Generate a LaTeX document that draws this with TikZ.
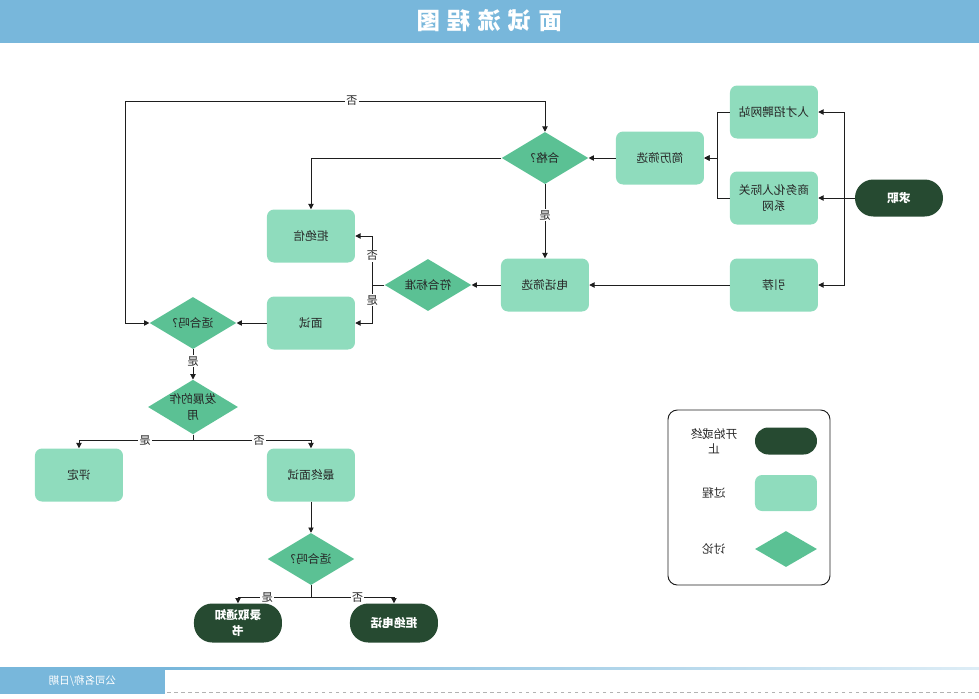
\documentclass[tikz,border=0pt]{standalone}
\usepackage{fontspec}
\setmainfont{Noto Sans CJK SC}
\newfontfamily\titlefont[LetterSpace=30]{Noto Sans CJK SC}
\usetikzlibrary{arrows.meta,shapes.geometric}

\definecolor{barblue}{HTML}{78B7DB}
\definecolor{procfill}{HTML}{8FDCBD}
\definecolor{decfill}{HTML}{5BC194}
\definecolor{termfill}{HTML}{264A31}
\definecolor{inkline}{HTML}{1E1E1E}

\tikzset{
  proc/.style={rectangle, rounded corners=6pt, fill=procfill, minimum width=2.64cm, minimum height=1.59cm, align=center, text=black!85, font=\fontsize{10}{13}\selectfont},
  decide/.style={diamond, fill=decfill, minimum width=2.6cm, minimum height=1.56cm, inner sep=0pt, aspect=1.65, align=center, text=black!85, font=\fontsize{10}{13}\selectfont},
  term/.style={rectangle, rounded corners=0.55cm, fill=termfill, minimum width=2.64cm, minimum height=1.17cm, align=center, text=white, font=\bfseries\fontsize{10}{13}\selectfont},
  flow/.style={draw=inkline, line width=0.8pt, -{Triangle[length=4.5pt,width=4.5pt]}},
  twoway/.style={flow, {Triangle[length=4.5pt,width=4.5pt]}-{Triangle[length=4.5pt,width=4.5pt]}},
  yesno/.style={fill=white, inner sep=1pt, text=black!85, font=\fontsize{9.5}{10}\selectfont},
}

\begin{document}
\begin{tikzpicture}[x=0.03cm, y=-0.03cm, xscale=-1, transform shape]
\useasboundingbox (0,0) rectangle (979,698);

\fill[barblue] (0,0) rectangle (979,43);
\node[text=white, font=\titlefont\bfseries\fontsize{20}{24}\selectfont] (title) at (489.5,21) {面试流程图};

\node[term, minimum height=1.11cm] (qiuzhi) at (80,198) {求职};
\foreach \nm/\u/\v/\txt in {rencai/205/112/人才招聘网站, shangwu/205/198/{商务化人际关\\系网}, yinjian/205/285/引荐, jianli/319/158/简历筛选, dianhua/434/285/电话筛选, jujuexin/668/236/拒绝信, mianshi/668/323/面试, pingding/900/475/评定, zuizhong/668/475/最终面试}
  \node[proc] (\nm) at (\u,\v) {\txt};
\foreach \nm/\u/\v/\txt in {hege/434/158/合格?, fuhe/551/285/符合标准, shihe/786/323/适合吗?, fazhan/786/407/{发展的作\\用}, shihezz/668/559/适合吗?}
  \node[decide] (\nm) at (\u,\v) {\txt};
\node[term] (luqu) at (741,623) {录取通知\\书};
\node[term] (jujuedh) at (585,623) {拒绝电话};
\coordinate (loop) at (854,101);

\draw[flow] (qiuzhi.east) -- ++(10,0) |- (rencai.west);
\draw[flow] (qiuzhi.east) -- (shangwu.west);
\draw[flow] (qiuzhi.east) -- ++(10,0) |- (yinjian.west);
\draw[flow] (rencai.east) -- ++(12,0) |- (jianli.west);
\draw[flow] (shangwu.east) -- ++(12,0) |- (jianli.west);
\draw[flow] (jianli.east) -- (hege.west);
\draw[flow] (hege.east) -| (jujuexin.north);
\draw[flow] (hege.south) -- node[yesno, pos=0.42] {是} (dianhua.north);
\draw[flow] (yinjian.east) -- (dianhua.west);
\draw[flow] (dianhua.east) -- (fuhe.west);
\draw[flow] (fuhe.east) -- ++(12,0) |- node[yesno, pos=0.3] {否} (jujuexin.west);
\draw[flow] (fuhe.east) -- ++(12,0) |- node[yesno, pos=0.2] {是} (mianshi.west);
\draw[flow] (mianshi.east) -- (shihe.west);
\draw[twoway] (shihe.east) -| (loop) -| node[yesno, pos=0.27] {否} (hege.north);
\draw[flow] (shihe.south) -- node[yesno, pos=0.4] {是} (fazhan.north);
\draw[flow] (fazhan.south) -- ++(0,6) -| node[yesno, pos=0.21] {是} (pingding.north);
\draw[flow] (fazhan.south) -- ++(0,6) -| node[yesno, pos=0.28] {否} (zuizhong.north);
\draw[flow] (zuizhong.south) -- (shihezz.north);
\draw[flow] (shihezz.south) -- ++(0,12) -| node[yesno, pos=0.3] {是} (luqu.north);
\draw[flow] (shihezz.south) -- ++(0,12) -| node[yesno, pos=0.28] {否} (jujuedh.north);

\draw[draw=inkline, line width=0.8pt, rounded corners=8pt] (149,410) rectangle (311,585);
\foreach \shp/\v/\hgt/\rnd/\txt [count=\i] in {term/441/0.81cm/0.4cm/{开始或终\\止}, proc/493/1.08cm/6pt/过程, decide/549/1.08cm/0pt/讨论} {
  \node[\shp, minimum width=1.86cm, minimum height=\hgt, rounded corners=\rnd] (legshape\i) at (193,\v) {};
  \node[align=center, text=black!85, font=\fontsize{10}{13}\selectfont] (legtext\i) at (265,\v) {\txt};
}

\fill[barblue] (814,667) rectangle (979,694);
\node[text=white, font=\fontsize{9}{10}\selectfont] (footer) at (896.5,680.5) {公司名称/日期};
\shade[left color=barblue, right color=barblue!25] (0,667) rectangle (814,669.5);
\draw[gray!60, dashed, line width=0.5pt] (0,692) -- (814,692);
\end{tikzpicture}
\end{document}
